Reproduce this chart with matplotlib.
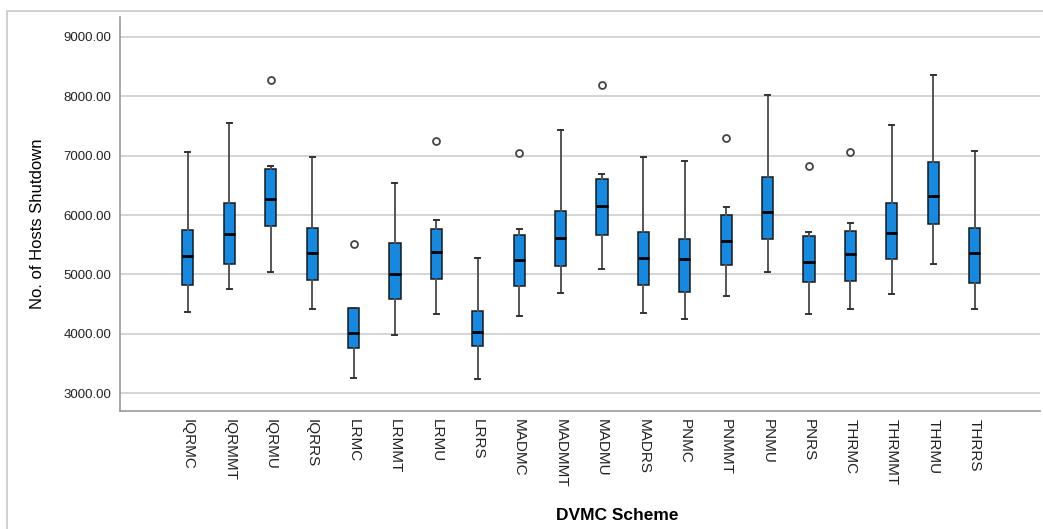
import matplotlib
matplotlib.use("Agg")
import matplotlib.pyplot as plt
from matplotlib import font_manager
from matplotlib.patches import Rectangle

# DVMC schemes and box statistics
schemes = ["IQRMC", "IQRMMT", "IQRMU", "IQRRS", "LRMC", "LRMMT", "LRMU", "LRRS",
           "MADMC", "MADMMT", "MADMU", "MADRS", "PNMC", "PNMMT", "PNMU", "PNRS",
           "THRMC", "THRMMT", "THRMU", "THRRS"]
whisker_low = [4359, 4746, 5038, 4421, 3259, 3971, 4332, 3237, 4298, 4685,
               5089, 4348, 4247, 4629, 5044, 4337, 4409, 4673, 5173, 4421]
q1 = [4820, 5173, 5807, 4904, 3753, 4584, 4921, 3787, 4803, 5145,
      5661, 4813, 4707, 5156, 5599, 4870, 4887, 5263, 5847, 4859]
medians = [5308, 5672, 6267, 5358, 4017, 5005, 5375, 4022, 5234, 5611,
           6150, 5274, 5251, 5561, 6059, 5212, 5347, 5705, 6318, 5364]
q3 = [5739, 6205, 6783, 5785, 4438, 5532, 5763, 4387, 5667, 6066,
      6609, 5717, 5594, 6003, 6648, 5639, 5734, 6205, 6891, 5773]
whisker_high = [7069, 7547, 6828, 6985, 4438, 6542, 5914, 5268, 5756, 7440,
                6694, 6975, 6918, 6127, 8024, 5712, 5864, 7524, 8365, 7086]
outliers = [[], [], [8271], [], [5515], [], [7254], [],
            [7042], [], [8197], [], [], [7300], [], [6833],
            [7069], [], [], []]

stats = []
for i, name in enumerate(schemes):
    stats.append({
        "label": name,
        "whislo": whisker_low[i],
        "q1": q1[i],
        "med": medians[i],
        "q3": q3[i],
        "whishi": whisker_high[i],
        "fliers": outliers[i],
    })

# condensed face for the y label if the narrow variant is installed
installed = {f.name for f in font_manager.fontManager.ttflist}
if "Liberation Sans Narrow" in installed:
    ylab_font, ylab_size = "Liberation Sans Narrow", 13.5
else:
    ylab_font, ylab_size = "Liberation Sans", 12

fig = plt.figure(figsize=(10.43, 5.29), dpi=100)
ax = fig.add_axes([120 / 1043, 1 - 411 / 529, 920 / 1043, 394 / 529])

# light outer frame like the SPSS output
fig.patches.append(Rectangle((7 / 1043, -0.01), 1.0, (529 - 11) / 529 + 0.01,
                             transform=fig.transFigure, fill=False,
                             edgecolor="#c8c8c8", linewidth=1.2, zorder=0))

positions = list(range(1, len(schemes) + 1))
ax.bxp(stats, positions=positions, widths=0.27, patch_artist=True,
       capwidths=0.12,
       boxprops=dict(facecolor="#1589e0", edgecolor="#1a1a1a", linewidth=1.1),
       medianprops=dict(color="black", linewidth=2.0),
       whiskerprops=dict(color="#555555", linewidth=1.4),
       capprops=dict(color="#333333", linewidth=1.4),
       flierprops=dict(marker="o", markersize=5, markerfacecolor="white",
                       markeredgecolor="#444444", markeredgewidth=1.3))

ax.set_xlim(-0.64, 21.58)
ax.set_ylim(2697, 9337)
ax.set_yticks([3000, 4000, 5000, 6000, 7000, 8000, 9000])
ax.set_yticklabels([f"{v:.2f}" for v in ax.get_yticks()],
                   fontsize=9.5, family="Liberation Sans", color="#222222")
ax.set_xticks(positions)
ax.set_xticklabels(schemes, rotation=270, fontsize=11, family="Liberation Sans",
                   va="top", ha="center", color="#222222")
ax.tick_params(axis="both", length=0)
ax.tick_params(axis="y", pad=6)
ax.tick_params(axis="x", pad=6)

ax.grid(axis="y", color="#d4d4d4", linewidth=1.4)
ax.set_axisbelow(True)
for side in ["top", "right"]:
    ax.spines[side].set_visible(False)
for side in ["left", "bottom"]:
    ax.spines[side].set_color("#999999")
    ax.spines[side].set_linewidth(1.2)

fig.text(38 / 1043, 1 - 224 / 529, "No. of Hosts Shutdown", fontsize=ylab_size,
         family=ylab_font, rotation=90, ha="center", va="center",
         color="black")
fig.text(617 / 1043, 1 - 515 / 529, "DVMC Scheme", fontsize=12.5,
         fontweight="bold", family="Liberation Sans", ha="center", va="center")

fig.savefig("out.png", dpi=100)
